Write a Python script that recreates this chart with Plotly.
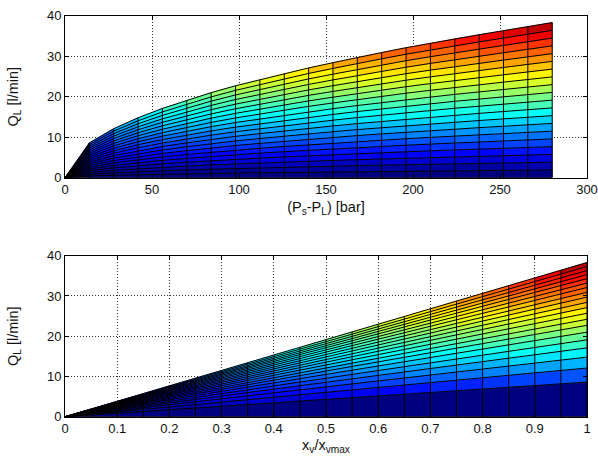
import numpy as np
import plotly.graph_objects as go

# ---- data ----
pressure_bar = [0, 14, 28, 42, 56, 70, 84, 98, 112, 126, 140,
                154, 168, 182, 196, 210, 224, 238, 252, 266, 280]
opening = [0, 0.05, 0.10, 0.15, 0.20, 0.25, 0.30, 0.35, 0.40, 0.45, 0.50,
           0.55, 0.60, 0.65, 0.70, 0.75, 0.80, 0.85, 0.90, 0.95, 1.00]
# flow at full valve opening for each pressure drop [l/min]
q_full_open = [0, 8.6, 12.1, 14.8, 17.1, 19.1, 21.0, 22.7, 24.2, 25.7, 27.1,
               28.4, 29.7, 30.9, 32.1, 33.2, 34.3, 35.3, 36.3, 37.3, 38.3]
x1_ticks = [0, 50, 100, 150, 200, 250, 300]
x2_ticks = [0, 0.1, 0.2, 0.3, 0.4, 0.5, 0.6, 0.7, 0.8, 0.9, 1]
y_ticks = [0, 10, 20, 30, 40]

P = np.array(pressure_bar, float)
XV = np.array(opening, float)
Q = np.outer(XV, np.array(q_full_open, float))  # rows: opening, cols: pressure
PG = np.tile(P, (len(XV), 1))
XG = np.tile(XV[:, None], (1, len(P)))


def jet(t, n=64):
    k = min(int(np.floor(t * n)), n - 1)
    x = k / (n - 1)
    r = np.clip(1.5 - abs(4 * x - 3), 0, 1)
    g = np.clip(1.5 - abs(4 * x - 2), 0, 1)
    b = np.clip(1.5 - abs(4 * x - 1), 0, 1)
    return k, 'rgb(%d,%d,%d)' % (round(r * 255), round(g * 255), round(b * 255))


cmax = float(Q.max())
fig = go.Figure()


def add_surface(X, Y, C, xa, ya):
    groups = {}
    nr, nc = X.shape
    for i in range(nr - 1):
        for j in range(nc - 1):
            k, col = jet(C[i, j] / cmax)
            gx, gy, _ = groups.setdefault(k, ([], [], col))
            for (a, b) in [(i, j), (i, j + 1), (i + 1, j + 1), (i + 1, j), (i, j)]:
                gx.append(X[a, b]); gy.append(Y[a, b])
            gx.append(None); gy.append(None)
    for k in sorted(groups):
        gx, gy, col = groups[k]
        fig.add_trace(go.Scatter(x=gx, y=gy, mode='lines', fill='toself',
                                 fillcolor=col, line=dict(width=0.6, color=col),
                                 xaxis=xa, yaxis=ya, hoverinfo='skip',
                                 showlegend=False))
    ex, ey = [], []
    for i in range(nr):
        ex += list(X[i, :]) + [None]; ey += list(Y[i, :]) + [None]
    for j in range(nc):
        ex += list(X[:, j]) + [None]; ey += list(Y[:, j]) + [None]
    fig.add_trace(go.Scatter(x=ex, y=ey, mode='lines',
                             line=dict(width=1, color='black'),
                             xaxis=xa, yaxis=ya, hoverinfo='skip',
                             showlegend=False))


add_surface(PG, Q, Q, 'x', 'y')
add_surface(XG, Q, Q, 'x2', 'y2')

W, H = 598, 464
xdom = [65 / W, 587 / W]
top_dom = [1 - 177.7 / H, 1 - 15.7 / H]
bot_dom = [1 - 416.7 / H, 1 - 255.7 / H]

font = dict(family='Liberation Sans, Arial, sans-serif', size=13, color='#111')
tfont = dict(family='Liberation Sans, Arial, sans-serif', size=14.5, color='#111')
common = dict(showline=True, linecolor='black', linewidth=1, mirror='ticks',
              ticks='inside', ticklen=4, tickcolor='black',
              showgrid=True, gridcolor='#333', griddash='1px,2px', gridwidth=1,
              zeroline=False, tickfont=font, automargin=False)

fig.update_layout(
    width=W, height=H,
    margin=dict(l=0, r=0, t=0, b=0, autoexpand=False),
    paper_bgcolor='white', plot_bgcolor='white',
    font=font,
    xaxis=dict(domain=xdom, range=[0, 300], tickvals=x1_ticks, anchor='y',
               title=dict(text='(P<sub>s</sub>-P<sub>L</sub>) [bar]', font=tfont, standoff=5),
               **common),
    yaxis=dict(domain=top_dom, range=[0, 40], tickvals=y_ticks, anchor='x',
               title=dict(text='Q<sub>L</sub> [l/min]', font=tfont, standoff=24),
               **common),
    xaxis2=dict(domain=xdom, range=[0, 1], tickvals=x2_ticks, anchor='y2',
                title=dict(text='x<sub>v</sub>/x<sub>vmax</sub>', font=tfont, standoff=4),
                **common),
    yaxis2=dict(domain=bot_dom, range=[0, 40], tickvals=y_ticks, anchor='x2',
                title=dict(text='Q<sub>L</sub> [l/min]', font=tfont, standoff=24),
                **common),
)

fig.write_html('out.html',
               config=dict(displayModeBar=False),
               post_script="document.body.style.margin='0';"
                           "document.body.style.overflow='hidden';")
